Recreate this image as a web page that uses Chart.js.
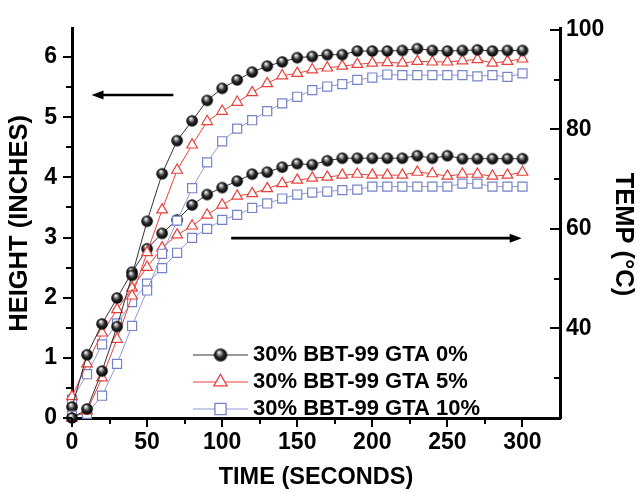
<!DOCTYPE html>
<html><head><meta charset="utf-8">
<script src="https://cdn.jsdelivr.net/npm/chart.js@4.4.1/dist/chart.umd.min.js"></script>
<style>html,body{margin:0;padding:0;background:#fff;}</style>
</head><body>
<canvas id="c" width="640" height="493"></canvas>
<script>
// ---- data ----
const timeSeconds = [0,10,20,30,40,50,60,70,80,90,100,110,120,130,140,150,160,170,180,190,200,210,220,230,240,250,260,270,280,290,300];
const seriesLabels = ['30% BBT-99 GTA 0%','30% BBT-99 GTA 5%','30% BBT-99 GTA 10%'];
const heightGTA0  = [0.00,0.15,0.78,1.52,2.37,3.27,4.06,4.61,4.94,5.28,5.48,5.62,5.75,5.85,5.92,5.99,6.01,6.04,6.04,6.10,6.10,6.10,6.11,6.14,6.11,6.10,6.11,6.12,6.10,6.11,6.11];
const heightGTA5  = [0.00,0.12,0.67,1.31,2.03,2.75,3.46,4.12,4.54,4.93,5.10,5.25,5.41,5.56,5.69,5.73,5.79,5.82,5.85,5.88,5.90,5.91,5.90,5.93,5.92,5.92,5.94,5.96,5.90,5.93,5.97];
const heightGTA10 = [0.04,0.07,0.37,0.90,1.53,2.12,2.73,3.28,3.82,4.25,4.60,4.81,4.95,5.10,5.23,5.34,5.45,5.51,5.55,5.62,5.66,5.71,5.70,5.70,5.70,5.70,5.70,5.68,5.70,5.67,5.73];
const tempGTA0  = [24.2,34.7,40.9,46.1,51.3,56.0,59.1,61.8,64.8,66.9,68.3,69.6,71.0,71.4,72.4,73.1,72.9,73.7,74.2,74.2,74.2,74.2,74.2,74.7,74.2,74.7,74.1,74.1,74.1,74.1,74.1];
const tempGTA5  = [26.3,32.9,39.1,43.8,48.1,52.3,56.2,58.8,60.6,62.8,64.8,66.6,67.1,68.1,69.1,69.8,70.2,70.4,70.8,71.0,70.8,70.8,70.8,71.4,71.1,70.6,71.0,71.0,70.6,70.8,71.4];
const tempGTA10 = [25.7,30.8,36.8,41.0,45.3,49.0,52.1,55.2,58.2,60.0,61.8,62.8,64.2,65.1,66.1,66.9,67.3,67.5,67.8,67.9,68.5,68.5,68.5,68.5,68.5,68.5,69.1,69.1,68.5,68.5,68.5];
const xTickLabels = [0,50,100,150,200,250,300];
const xMinorTicks = [25,75,125,175,225,275];
const heightTickLabels = [0,1,2,3,4,5,6];
const heightMinorTicks = [0.5,1.5,2.5,3.5,4.5,5.5];
const tempTickLabels = [40,60,80,100];
const tempMinorTicks = [30,50,70,90];
const tempTitle = 'TEMP (°C)';
// arrows in (time, height) units
const arrowLeft  = {from:[67.5,5.37], to:[13,5.37]};
const arrowRight = {from:[106,2.99], to:[299.5,2.99]};

// ---- styles ----
const FONT = "'Liberation Sans', Arial, Helvetica, sans-serif";
Chart.defaults.font.family = FONT;
Chart.defaults.color = '#000';
const RED = '#e8413c', BLUE = '#7482c8', BLUE_LINE = '#8f99d4';

function sphere(r){
  const s = Math.ceil(2*r)+2, c = document.createElement('canvas');
  c.width = s; c.height = s;
  const g = c.getContext('2d'), cx = s/2, cy = s/2;
  const gr = g.createRadialGradient(cx - r*0.25, cy - r*0.45, r*0.05, cx, cy, r);
  gr.addColorStop(0,'#ffffff'); gr.addColorStop(0.22,'#a8a8a8');
  gr.addColorStop(0.55,'#2a2a2a'); gr.addColorStop(1,'#000');
  g.fillStyle = gr; g.beginPath(); g.arc(cx,cy,r,0,Math.PI*2); g.fill();
  return c;
}
const ball = sphere(5.8);

const pts = (ys) => timeSeconds.map((t,i)=>({x:t,y:ys[i]}));
const styles = [
  {borderColor:'#333', pointStyle:ball, pointBackgroundColor:'#000', pointBorderColor:'#000', pointRadius:5.8, lineColor:'#333'},
  {borderColor:RED, pointStyle:'triangle', pointBackgroundColor:'#fff', pointBorderColor:RED, pointRadius:6.2, lineColor:RED},
  {borderColor:BLUE_LINE, pointStyle:'rect', pointBackgroundColor:'#fff', pointBorderColor:BLUE, pointRadius:6.4, lineColor:BLUE_LINE}
];
function ds(label, ys, axis, st){
  return {label, data:pts(ys), yAxisID:axis, borderColor:st.borderColor, borderWidth:1,
    pointStyle:st.pointStyle, pointRadius:st.pointRadius, pointBackgroundColor:st.pointBackgroundColor,
    pointBorderColor:st.pointBorderColor, pointBorderWidth:1.2, tension:0, clip:false};
}
const datasets = [
  ds(seriesLabels[0], heightGTA0, 'y', styles[0]),
  ds(seriesLabels[1], heightGTA5, 'y', styles[1]),
  ds(seriesLabels[2], heightGTA10,'y', styles[2]),
  ds(seriesLabels[0], tempGTA0, 'y2', styles[0]),
  ds(seriesLabels[1], tempGTA5, 'y2', styles[1]),
  ds(seriesLabels[2], tempGTA10,'y2', styles[2])
];

function setTicks(values){ return (scale)=>{ scale.ticks = values.map(v=>({value:v})); }; }

const extras = {
  id:'extras',
  afterDraw(chart){
    const ctx = chart.ctx, xs = chart.scales.x, ys = chart.scales.y, y2 = chart.scales.y2;
    const ca = chart.chartArea;
    ctx.save();
    ctx.strokeStyle = '#000'; ctx.lineWidth = 2; ctx.lineCap = 'butt';
    const tick = (x1,y1,x2,y2_) => { ctx.beginPath(); ctx.moveTo(x1,y1); ctx.lineTo(x2,y2_); ctx.stroke(); };
    const B = ca.bottom, L = ca.left, R = ca.right;
    xTickLabels.forEach(v=>{ const p = Math.round(xs.getPixelForValue(v)); tick(p,B,p,B+9); });
    xMinorTicks.forEach(v=>{ const p = Math.round(xs.getPixelForValue(v)); tick(p,B,p,B+6); });
    heightTickLabels.forEach(v=>{ const p = Math.round(ys.getPixelForValue(v)); tick(L,p,L-9,p); });
    heightMinorTicks.forEach(v=>{ const p = Math.round(ys.getPixelForValue(v)); tick(L,p,L-6,p); });
    tempTickLabels.forEach(v=>{ const p = Math.round(y2.getPixelForValue(v)); tick(R,p,R-10,p); });
    tempMinorTicks.forEach(v=>{ const p = Math.round(y2.getPixelForValue(v)); tick(R,p,R-6,p); });

    // right axis title
    ctx.save();
    ctx.translate(623, (ca.top + ca.bottom)/2 + 11);
    ctx.rotate(Math.PI/2);
    ctx.font = "bold 25.5px " + FONT; ctx.textAlign = 'center'; ctx.textBaseline = 'middle'; ctx.fillStyle = '#000';
    ctx.fillText(tempTitle, 0, 0);
    ctx.restore();

    // arrows
    const arrow = (a) => {
      const x1 = xs.getPixelForValue(a.from[0]), yy1 = ys.getPixelForValue(a.from[1]);
      const x2 = xs.getPixelForValue(a.to[0]),   yy2 = ys.getPixelForValue(a.to[1]);
      const dir = Math.sign(x2-x1);
      ctx.lineWidth = 2.6; ctx.strokeStyle = '#000'; ctx.fillStyle = '#000';
      ctx.beginPath(); ctx.moveTo(x1,yy1); ctx.lineTo(x2 - dir*8, yy2); ctx.stroke();
      ctx.beginPath(); ctx.moveTo(x2,yy2); ctx.lineTo(x2 - dir*12, yy2-4.5); ctx.lineTo(x2 - dir*12, yy2+4.5); ctx.closePath(); ctx.fill();
    };
    arrow(arrowLeft); arrow(arrowRight);

    // legend inside plot
    const lx = 193, lw = 55, tx = 253, rows = [355, 382, 409];
    ctx.font = "bold 22px " + FONT; ctx.textBaseline = 'middle'; ctx.textAlign = 'left';
    seriesLabels.forEach((lab,i)=>{
      const y = rows[i], st = styles[i], mx = lx + lw/2;
      ctx.strokeStyle = st.lineColor; ctx.lineWidth = 1;
      ctx.beginPath(); ctx.moveTo(lx,y); ctx.lineTo(lx+lw,y); ctx.stroke();
      if (i===0) { ctx.drawImage(ball, mx - ball.width/2 - 1, y - ball.height/2 - 1, ball.width+2, ball.height+2); }
      else {
        ctx.fillStyle = '#fff'; ctx.strokeStyle = st.pointBorderColor; ctx.lineWidth = 1.3;
        ctx.beginPath();
        if (i===1){ const r = st.pointRadius+1.5; ctx.moveTo(mx, y - r); ctx.lineTo(mx + r*0.866, y + r*0.5); ctx.lineTo(mx - r*0.866, y + r*0.5); ctx.closePath(); }
        else { const s = (st.pointRadius+1.5)*Math.SQRT1_2; ctx.rect(mx - s, y - s, 2*s, 2*s); }
        ctx.fill(); ctx.stroke();
      }
      ctx.fillStyle = '#000'; ctx.fillText(lab, tx, y);
    });
    ctx.restore();
  }
};

new Chart(document.getElementById('c'), {
  type:'line',
  data:{datasets},
  options:{
    responsive:false, animation:false, devicePixelRatio:1,
    layout:{padding:{top:24,left:0,right:0,bottom:0}},
    plugins:{legend:{display:false}, tooltip:{enabled:false}},
    elements:{line:{borderWidth:1}},
    scales:{
      x:{type:'linear', min:0, max:325, position:'bottom',
        afterBuildTicks:setTicks(xTickLabels),
        afterFit:(s)=>{ s.height = 75; },
        grid:{display:true, drawOnChartArea:false, drawTicks:false},
        border:{display:true, width:3, color:'#000'},
        ticks:{font:{size:23, weight:'bold'}, padding:11, color:'#000', maxRotation:0, autoSkip:false},
        title:{display:true, text:'TIME (SECONDS)', font:{size:23.5, weight:'bold'}, color:'#000', padding:{top:0,bottom:1}}
      },
      y:{type:'linear', position:'left', min:0, max:6.47,
        afterBuildTicks:setTicks(heightTickLabels),
        afterFit:(s)=>{ s.width = 72; },
        grid:{display:true, drawOnChartArea:false, drawTicks:false},
        border:{display:true, width:3, color:'#000'},
        ticks:{font:{size:23, weight:'bold'}, padding:15, color:'#000', autoSkip:false},
        title:{display:true, text:'HEIGHT (INCHES)', font:{size:25.5, weight:'bold'}, color:'#000', padding:{top:5,bottom:0}}
      },
      y2:{type:'linear', position:'right', min:22, max:100.2,
        afterBuildTicks:setTicks(tempTickLabels),
        afterFit:(s)=>{ s.width = 80; },
        grid:{display:true, drawOnChartArea:false, drawTicks:false},
        border:{display:true, width:3, color:'#000'},
        ticks:{font:{size:23, weight:'bold'}, padding:6, color:'#000', autoSkip:false},
        title:{display:false}
      }
    }
  },
  plugins:[extras]
});
</script>
</body></html>
